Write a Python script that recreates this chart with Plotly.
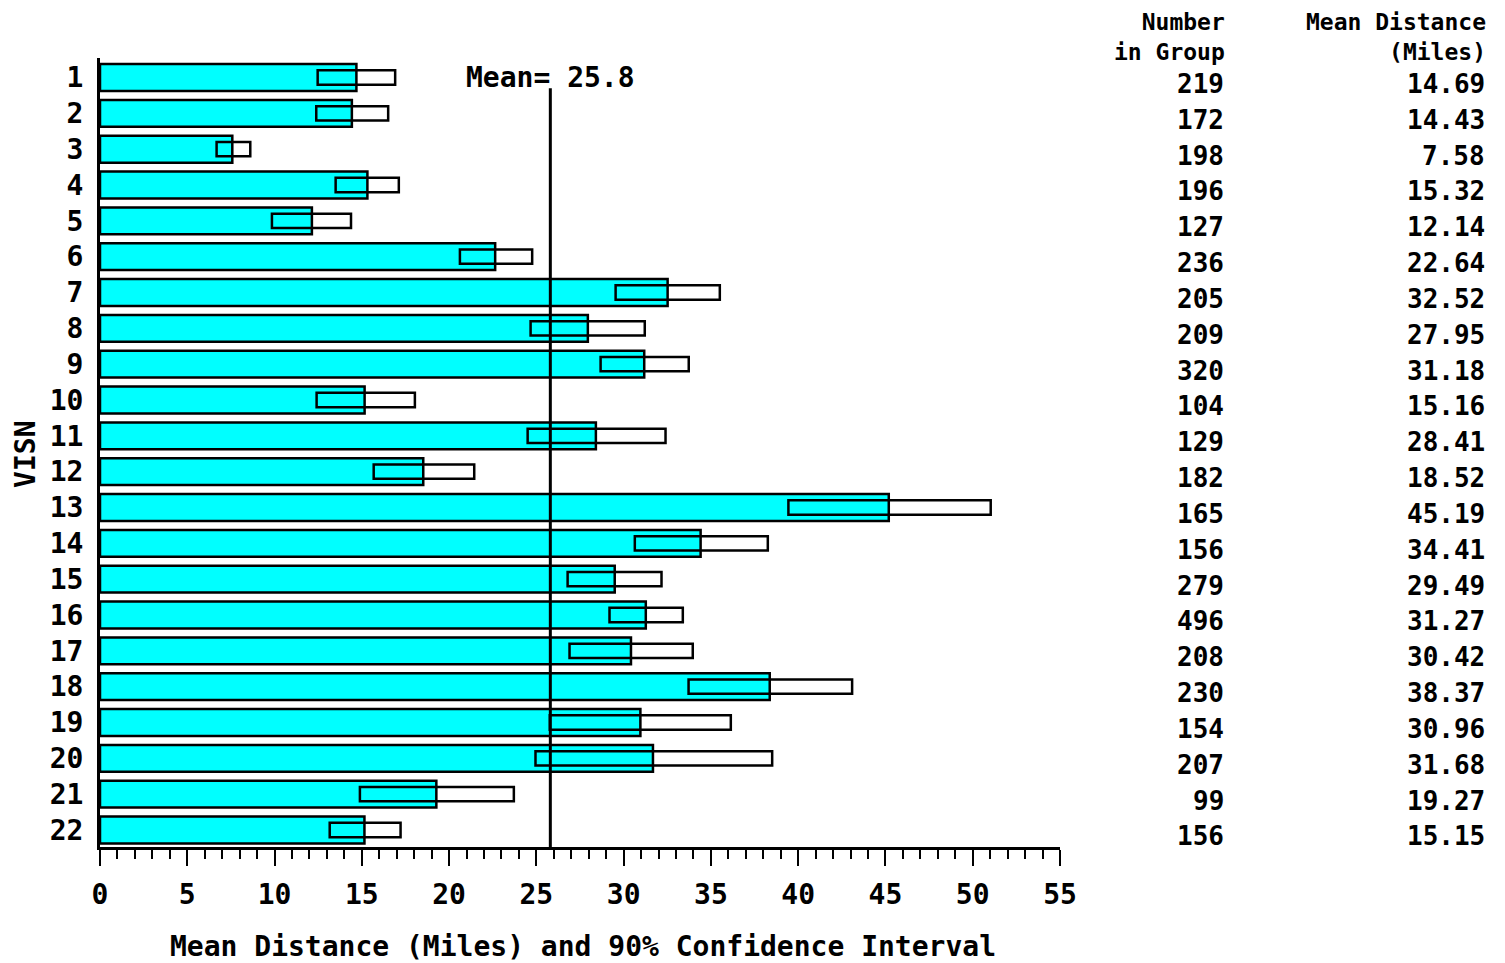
import plotly.graph_objects as go

visn = list(range(1, 23))
n_in_group = [219, 172, 198, 196, 127, 236, 205, 209, 320, 104, 129,
              182, 165, 156, 279, 496, 208, 230, 154, 207, 99, 156]
mean_dist = [14.69, 14.43, 7.58, 15.32, 12.14, 22.64, 32.52, 27.95, 31.18, 15.16, 28.41,
             18.52, 45.19, 34.41, 29.49, 31.27, 30.42, 38.37, 30.96, 31.68, 19.27, 15.15]
ci_lower = [12.47, 12.39, 6.68, 13.50, 9.85, 20.62, 29.54, 24.67, 28.68, 12.41, 24.50,
            15.68, 39.44, 30.64, 26.79, 29.19, 26.90, 33.72, 25.77, 24.95, 14.89, 13.16]
ci_upper = [16.91, 16.51, 8.61, 17.12, 14.38, 24.76, 35.51, 31.21, 33.73, 18.04, 32.40,
            21.44, 51.03, 38.26, 32.17, 33.39, 33.96, 43.09, 36.14, 38.51, 23.71, 17.22]
overall_mean = 25.8
x_ticks = list(range(0, 56, 5))

FONT = "DejaVu Sans Mono"
FS = 28
FS_T = 26
FS_H = 23

fig = go.Figure()
fig.add_trace(go.Bar(
    y=visn, x=mean_dist, orientation="h", width=0.75,
    marker=dict(color="#00FFFF", line=dict(color="black", width=2.5)),
    showlegend=False, hoverinfo="x+y",
))
fig.add_trace(go.Bar(
    y=visn, x=[u - l for l, u in zip(ci_lower, ci_upper)], base=ci_lower,
    orientation="h", width=0.4,
    marker=dict(color="rgba(0,0,0,0)", line=dict(color="black", width=2.5)),
    showlegend=False, hoverinfo="skip",
))

fig.update_layout(
    barmode="overlay",
    width=1497, height=955,
    margin=dict(l=92, r=445, t=50, b=116),
    plot_bgcolor="white", paper_bgcolor="white",
    font=dict(family=FONT, size=FS, color="black"),
    xaxis=dict(
        range=[0, 55], tickvals=x_ticks, ticktext=[str(v) for v in x_ticks],
        showgrid=False, zeroline=False,
        showline=True, linecolor="black", linewidth=3,
        ticks="outside", ticklen=16, tickwidth=2, tickcolor="black",
        minor=dict(dtick=1, ticks="outside", ticklen=9, tickwidth=2, tickcolor="black"),
        ticklabelstandoff=4,
        tickfont=dict(family=FONT, size=FS, weight="bold"),
    ),
    yaxis=dict(
        range=[22.475, 0.455], tickvals=visn, ticktext=[str(v) for v in visn],
        showgrid=False, zeroline=False,
        showline=True, linecolor="black", linewidth=3,
        ticks="", ticklabelstandoff=8,
        tickfont=dict(family=FONT, size=FS, weight="bold"),
    ),
)

fig.add_shape(type="line", xref="x", yref="y", x0=overall_mean, x1=overall_mean,
              y0=1.3, y1=22.475, line=dict(color="black", width=3), layer="above")
fig.add_annotation(x=overall_mean, y=1, xref="x", yref="y", text=f"Mean= {overall_mean}",
                   showarrow=False, xanchor="center", yanchor="middle",
                   font=dict(family=FONT, size=FS, weight="bold"))

# axis titles
fig.add_annotation(x=0.503, y=-0.1267, xref="paper", yref="paper",
                   text="Mean Distance (Miles) and 90% Confidence Interval",
                   showarrow=False, xanchor="center", yanchor="middle",
                   font=dict(family=FONT, size=FS, weight="bold"))
fig.add_annotation(x=-0.077, y=0.497, xref="paper", yref="paper", text="VISN",
                   textangle=-90, showarrow=False, xanchor="center", yanchor="middle",
                   font=dict(family=FONT, size=FS, weight="bold"))

# right-side table
col1_x = (1226 - 100) / 960
col2_x = (1487 - 100) / 960
for txt, xp in [("Number<br>in Group", col1_x), ("Mean Distance<br>(Miles)", col2_x)]:
    fig.add_annotation(x=xp, y=1.0634, xref="paper", yref="paper", text=txt,
                       showarrow=False, xanchor="right", yanchor="top", align="right",
                       borderpad=0,
                       font=dict(family=FONT, size=FS_H, weight="bold"))
for v, n, m in zip(visn, n_in_group, mean_dist):
    fig.add_annotation(x=col1_x, y=v + 0.18, xref="paper", yref="y", text=str(n),
                       showarrow=False, xanchor="right", yanchor="middle",
                       font=dict(family=FONT, size=FS_T, weight="bold"))
    fig.add_annotation(x=col2_x, y=v + 0.18, xref="paper", yref="y", text=f"{m:.2f}",
                       showarrow=False, xanchor="right", yanchor="middle",
                       font=dict(family=FONT, size=FS_T, weight="bold"))

fig.write_html("out.html")
